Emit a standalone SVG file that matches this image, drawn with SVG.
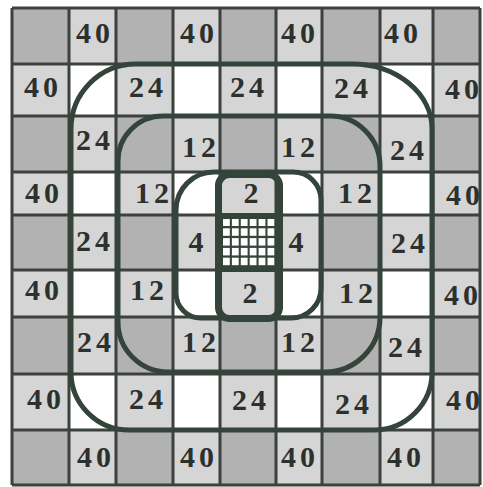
<svg xmlns="http://www.w3.org/2000/svg" width="483" height="487" viewBox="0 0 483 487">
<style>
.lt{fill:#d5d5d5}
.dk{fill:#b2b2b2}
.wh{fill:#ffffff}
.grid{stroke:#3b413d;stroke-width:3;fill:none}
.ring{stroke:#34443a;stroke-width:5;fill:none}
.frame{stroke:#34443a;fill:none}
.num{font-family:"Liberation Serif","Times New Roman",serif;font-weight:bold;font-size:30px;fill:#2c312e;text-anchor:middle;letter-spacing:4px}
.sq{fill:#ffffff}
</style>
<rect x="0" y="0" width="483" height="487" fill="#ffffff"/>
<g id="cells">
<rect class="lt" x="12" y="8" width="468" height="477"/>
<g id="dark-cells" class="dk">
<rect x="12" y="8" width="57" height="56"/><rect x="116" y="8" width="57" height="56"/><rect x="220" y="8" width="56" height="56"/><rect x="322" y="8" width="58" height="56"/><rect x="433" y="8" width="47" height="56"/>
<rect x="12" y="116" width="57" height="56"/><rect x="116" y="116" width="57" height="56"/><rect x="220" y="116" width="56" height="56"/><rect x="322" y="116" width="58" height="56"/><rect x="433" y="116" width="47" height="56"/>
<rect x="12" y="215" width="57" height="55"/><rect x="116" y="215" width="57" height="55"/><rect x="322" y="215" width="58" height="55"/><rect x="433" y="215" width="47" height="55"/>
<rect x="12" y="317" width="57" height="57"/><rect x="116" y="317" width="57" height="57"/><rect x="220" y="317" width="56" height="57"/><rect x="322" y="317" width="58" height="57"/><rect x="433" y="317" width="47" height="57"/>
<rect x="12" y="430" width="57" height="55"/><rect x="116" y="430" width="57" height="55"/><rect x="220" y="430" width="56" height="55"/><rect x="322" y="430" width="58" height="55"/><rect x="433" y="430" width="47" height="55"/>
</g>
<g id="white-cells" class="wh">
<rect x="69" y="64" width="47" height="52"/><rect x="173" y="64" width="47" height="52"/><rect x="276" y="64" width="46" height="52"/><rect x="380" y="64" width="53" height="52"/>
<rect x="69" y="172" width="47" height="43"/><rect x="173" y="172" width="47" height="43"/><rect x="276" y="172" width="46" height="43"/><rect x="380" y="172" width="53" height="43"/>
<rect x="69" y="270" width="47" height="47"/><rect x="173" y="270" width="47" height="47"/><rect x="276" y="270" width="46" height="47"/><rect x="380" y="270" width="53" height="47"/>
<rect x="69" y="374" width="47" height="56"/><rect x="173" y="374" width="47" height="56"/><rect x="276" y="374" width="46" height="56"/><rect x="380" y="374" width="53" height="56"/>
</g>
</g>
<g id="grid-lines">
<path class="grid" d="M12 8V485M69 8V485M116 8V485M173 8V485M220 8V485M276 8V485M322 8V485M380 8V485M433 8V485M480 8V485M12 8H480M12 64H480M12 116H480M12 172H480M12 215H480M12 270H480M12 317H480M12 374H480M12 430H480M12 485H480"/>
</g>
<g id="rings">
<path id="outer-ring" class="ring" d="M136 64H352A80 65 0 0 1 432 129V372A58 58 0 0 1 374 430H129A58 58 0 0 1 71 372V129A65 65 0 0 1 136 64Z"/>
<path id="middle-ring" class="ring" d="M163 116H330A50 50 0 0 1 380 166V317A55 55 0 0 1 325 372H168A50 50 0 0 1 118 322V161A45 45 0 0 1 163 116Z"/>
<path id="inner-ring" class="ring" d="M214 172H293A28 28 0 0 1 321 200V288A30 30 0 0 1 291 318H201A25 25 0 0 1 176 293V210A38 38 0 0 1 214 172Z"/>
</g>
<g id="center">
<rect x="220" y="216" width="58" height="54" fill="#34443a"/>
<g class="sq">
<rect x="223" y="218.5" width="6.8" height="7.5"/><rect x="231.9" y="218.5" width="6.8" height="7.5"/><rect x="240.8" y="218.5" width="6.8" height="7.5"/><rect x="249.7" y="218.5" width="6.8" height="7.5"/><rect x="258.6" y="218.5" width="6.8" height="7.5"/><rect x="267.5" y="218.5" width="6.8" height="7.5"/>
<rect x="223" y="228.3" width="6.8" height="7.5"/><rect x="231.9" y="228.3" width="6.8" height="7.5"/><rect x="240.8" y="228.3" width="6.8" height="7.5"/><rect x="249.7" y="228.3" width="6.8" height="7.5"/><rect x="258.6" y="228.3" width="6.8" height="7.5"/><rect x="267.5" y="228.3" width="6.8" height="7.5"/>
<rect x="223" y="238.1" width="6.8" height="7.5"/><rect x="231.9" y="238.1" width="6.8" height="7.5"/><rect x="240.8" y="238.1" width="6.8" height="7.5"/><rect x="249.7" y="238.1" width="6.8" height="7.5"/><rect x="258.6" y="238.1" width="6.8" height="7.5"/><rect x="267.5" y="238.1" width="6.8" height="7.5"/>
<rect x="223" y="247.9" width="6.8" height="7.5"/><rect x="231.9" y="247.9" width="6.8" height="7.5"/><rect x="240.8" y="247.9" width="6.8" height="7.5"/><rect x="249.7" y="247.9" width="6.8" height="7.5"/><rect x="258.6" y="247.9" width="6.8" height="7.5"/><rect x="267.5" y="247.9" width="6.8" height="7.5"/>
<rect x="223" y="257.7" width="6.8" height="7.5"/><rect x="231.9" y="257.7" width="6.8" height="7.5"/><rect x="240.8" y="257.7" width="6.8" height="7.5"/><rect x="249.7" y="257.7" width="6.8" height="7.5"/><rect x="258.6" y="257.7" width="6.8" height="7.5"/><rect x="267.5" y="257.7" width="6.8" height="7.5"/>
</g>
<rect class="frame" x="218.5" y="174.5" width="61" height="144" rx="11" stroke-width="7"/>
<path class="frame" d="M218 216H280" stroke-width="6"/>
<path class="frame" d="M218 269.5H280" stroke-width="5"/>
</g>
<g id="numbers" class="num">
<text x="95" y="43">40</text><text x="199" y="43">40</text><text x="300" y="43">40</text><text x="403" y="43">40</text>
<text x="43" y="97">40</text><text x="148" y="97">24</text><text x="249" y="97">24</text><text x="353" y="98">24</text><text x="464" y="99">40</text>
<text x="95" y="150">24</text><text x="201" y="157">12</text><text x="300" y="157">12</text><text x="409" y="160">24</text>
<text x="44" y="203">40</text><text x="154" y="203">12</text><text x="253" y="203">2</text><text x="357" y="203">12</text><text x="465" y="205">40</text>
<text x="95" y="251">24</text><text x="198" y="252">4</text><text x="298" y="252">4</text><text x="410" y="253">24</text>
<text x="44" y="300">40</text><text x="149" y="300">12</text><text x="252" y="303">2</text><text x="358" y="303">12</text><text x="463" y="305">40</text>
<text x="96" y="352">24</text><text x="201" y="352">12</text><text x="300" y="352">12</text><text x="407" y="357">24</text>
<text x="46" y="409">40</text><text x="148" y="409">24</text><text x="251" y="410">24</text><text x="354" y="414">24</text><text x="465" y="410">40</text>
<text x="96" y="467">40</text><text x="199" y="467">40</text><text x="300" y="467">40</text><text x="406" y="467">40</text>
</g>
</svg>
